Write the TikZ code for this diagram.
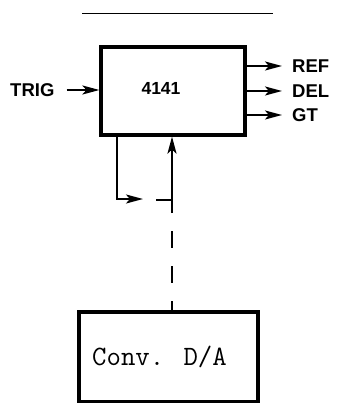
\documentclass[tikz,border=0pt]{standalone}
\usepackage{fontspec}
\setmainfont{Liberation Sans}
\usetikzlibrary{arrows.meta}
\tikzset{
  blk/.style={draw, line width=3.2pt, minimum width=#1, inner sep=0pt},
  lbl/.style={font=\fontsize{18.5}{20}\selectfont\bfseries, inner sep=0pt},
  arr/.style={line width=2.2pt, -{Stealth[length=17pt,width=9pt,inset=4pt]}},
  wire/.style={line width=2.2pt},
}
\begin{document}
\begin{tikzpicture}[x=1pt,y=-1pt]
\useasboundingbox (0,0) rectangle (338,403);
% top rule
\draw[line width=1pt] (82,14) coordinate (r1) -- (273,14) coordinate (r2);
% main block
\node[blk=144pt, minimum height=88pt] (box) at (173,91) {};
\node[font=\fontsize{17.5}{19}\selectfont\bfseries, inner sep=0pt] (num) at (161,88) {4141};
% TRIG input
\node[lbl, anchor=west] (trig) at (10,90) {TRIG};
\draw[arr] ([xshift=12pt]trig.east) -- (box.west |- trig.east);
% outputs
\node[lbl, anchor=west] (ref) at (292,66) {REF};
\node[lbl, anchor=west] (del) at (292,91) {DEL};
\node[lbl, anchor=west] (gt)  at (292,115) {GT};
\draw[arr, shorten >=10pt] (box.east |- ref.west) -- (ref.west);
\draw[arr, shorten >=10pt] (box.east |- del.west) -- (del.west);
\draw[arr, shorten >=10pt] (box.east |- gt.west) -- (gt.west);
% feedback loop below
\coordinate (a) at (117,199);
\coordinate (b) at (143,199);
\draw[arr] (box.south -| a) -- (a) -- (b);
\coordinate (c) at (156,200);
\coordinate (d) at (172,200);
\draw[wire] (c) -- (d);
\coordinate (e) at (172,213);
\draw[arr] (e) -- (box.south -| e);
% D/A converter
\node[blk=179pt, minimum height=90pt] (conv) at (168.5,357) {};
\node[font=\ttfamily\fontsize{28}{30}\selectfont, inner sep=0pt, anchor=base west] (convt) at (92,365) {Conv. D/A};
\draw[wire, dash pattern=on 17pt off 18pt, dash phase=17pt] (e) -- (conv.north -| e);
\end{tikzpicture}
\end{document}
